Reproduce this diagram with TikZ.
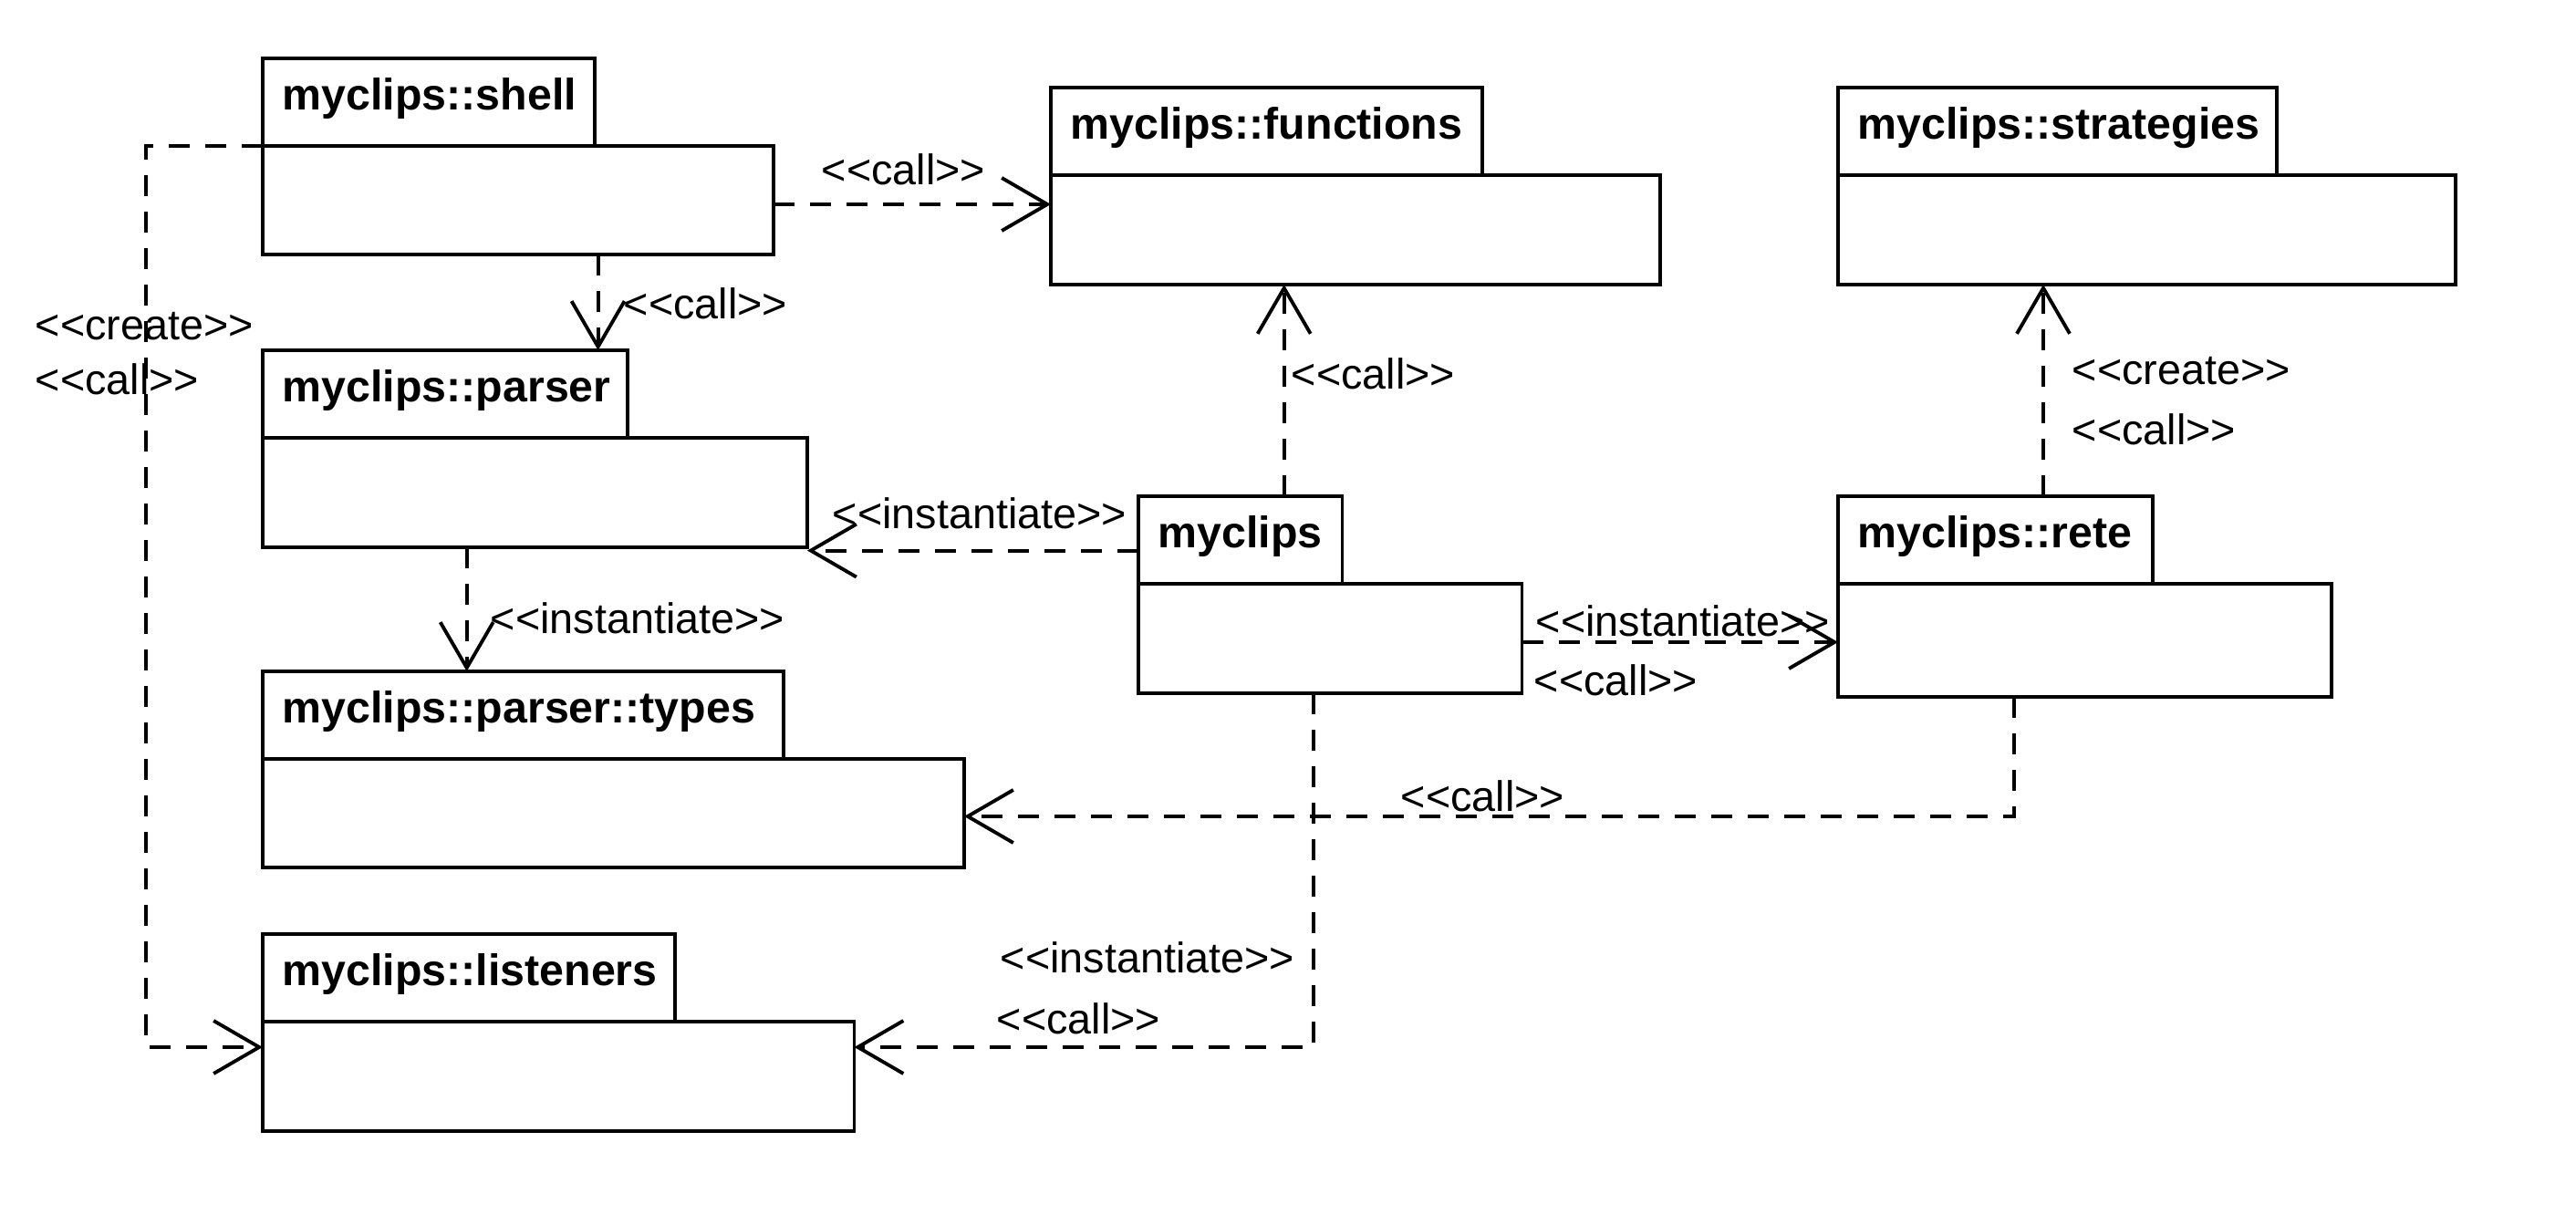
\documentclass[tikz,border=0pt]{standalone}
\usepackage{fontspec}
\setmainfont{Liberation Sans}
\usetikzlibrary{arrows.meta,positioning}
\newcommand\stereo[1]{<\kern0pt<#1>\kern0pt>}

\begin{document}
\begin{tikzpicture}[y=-1cm,line cap=butt,
    pkgbody/.style={draw,line width=1.1pt,anchor=north west,minimum height=1.2cm,inner sep=0pt,outer sep=0pt},
    pkgtab/.style={draw,line width=1.1pt,anchor=south west,minimum height=0.96cm,inner sep=0pt,outer sep=0pt},
    pkgname/.style={anchor=base west,inner sep=0pt,font=\bfseries\fontsize{13.75}{16}\selectfont},
    stlabel/.style={anchor=base west,inner sep=0pt,font=\fontsize{13.3}{16}\selectfont},
    dep/.style={line width=1.1pt,dash pattern=on 0.23cm off 0.17cm,
                -{Straight Barb[length=0.5cm,width=0.58cm]}}]
    \useasboundingbox (0,0) rectangle (28.24,13.32);
    % --- paquetes: cuerpo, pestaña y nombre ---
    \node[pkgbody,minimum width=5.60cm,minimum height=1.19cm] (shell) at (2.88,1.60) {};
    \node[pkgtab,minimum width=3.64cm] (shellTab) at (shell.north west) {};
    \node[pkgname] (shellName) at (3.09,1.205) {myclips::shell};
    \node[pkgbody,minimum width=6.68cm] (functions) at (11.52,1.92) {};
    \node[pkgtab,minimum width=4.73cm] (functionsTab) at (functions.north west) {};
    \node[pkgname] (functionsName) at (11.73,1.525) {myclips::functions};
    \node[pkgbody,minimum width=6.77cm] (strategies) at (20.15,1.92) {};
    \node[pkgtab,minimum width=4.81cm] (strategiesTab) at (strategies.north west) {};
    \node[pkgname] (strategiesName) at (20.36,1.525) {myclips::strategies};
    \node[pkgbody,minimum width=5.97cm] (parser) at (2.88,4.80) {};
    \node[pkgtab,minimum width=4.00cm] (parserTab) at (parser.north west) {};
    \node[pkgname] (parserName) at (3.09,4.405) {myclips::parser};
    \node[pkgbody,minimum width=4.205cm] (myclips) at (12.48,6.40) {};
    \node[pkgtab,minimum width=2.235cm] (myclipsTab) at (myclips.north west) {};
    \node[pkgname] (myclipsName) at (12.69,6.005) {myclips};
    \node[pkgbody,minimum width=5.41cm,minimum height=1.24cm] (rete) at (20.15,6.40) {};
    \node[pkgtab,minimum width=3.45cm] (reteTab) at (rete.north west) {};
    \node[pkgname] (reteName) at (20.36,6.005) {myclips::rete};
    \node[pkgbody,minimum width=7.69cm,minimum height=1.19cm] (types) at (2.88,8.32) {};
    \node[pkgtab,minimum width=5.71cm] (typesTab) at (types.north west) {};
    \node[pkgname] (typesName) at (3.09,7.925) {myclips::parser::types};
    \node[pkgbody,minimum width=6.485cm] (listeners) at (2.88,11.20) {};
    \node[pkgtab,minimum width=4.52cm] (listenersTab) at (listeners.north west) {};
    \node[pkgname] (listenersName) at (3.09,10.805) {myclips::listeners};
    % --- dependencias ---
    \draw[dep] (shell.east |- 0,2.24) -- (functions.west |- 0,2.24);
    \draw[dep] (6.556,0 |- shell.south) -- (6.556,0 |- parserTab.north);
    \draw[dep] (shell.north west) -| (1.60,11.48) -- (listeners.west |- 0,11.48);
    \draw[dep] (5.117,0 |- parser.south) -- (5.117,0 |- typesTab.north);
    \draw[dep] (myclipsTab.west |- 0,6.036) -- (parser.east |- 0,6.036);
    \draw[dep] (14.077,0 |- myclipsTab.north) -- (14.077,0 |- functions.south);
    \draw[dep] (myclips.east |- 0,7.04) -- (rete.west |- 0,7.04);
    \draw[dep] (14.40,0 |- myclips.south) -- (14.40,11.48) -- (listeners.east |- 0,11.48);
    \draw[dep] (22.08,0 |- rete.south) -- (22.08,8.95) -- (types.east |- 0,8.95);
    \draw[dep] (22.40,0 |- reteTab.north) -- (22.40,0 |- strategies.south);
    % --- estereotipos ---
    \node[stlabel] (lblShellFun) at (9.00,2.03) {\stereo{call}};
    \node[stlabel] (lblShellPar) at (6.83,3.50) {\stereo{call}};
    \node[stlabel] (lblShellLisA) at (0.38,3.73) {\stereo{create}};
    \node[stlabel] (lblShellLisB) at (0.38,4.33) {\stereo{call}};
    \node[stlabel] (lblParTyp) at (5.37,6.95) {\stereo{instantiate}};
    \node[stlabel] (lblMyPar) at (9.12,5.80) {\stereo{instantiate}};
    \node[stlabel] (lblMyFun) at (14.15,4.27) {\stereo{call}};
    \node[stlabel] (lblMyReteA) at (16.83,6.98) {\stereo{instantiate}};
    \node[stlabel] (lblMyReteB) at (16.81,7.63) {\stereo{call}};
    \node[stlabel] (lblMyLisA) at (10.96,10.66) {\stereo{instantiate}};
    \node[stlabel] (lblMyLisB) at (10.92,11.33) {\stereo{call}};
    \node[stlabel] (lblReteTyp) at (15.35,8.895) {\stereo{call}};
    \node[stlabel] (lblReteStrA) at (22.71,4.22) {\stereo{create}};
    \node[stlabel] (lblReteStrB) at (22.71,4.88) {\stereo{call}};
\end{tikzpicture}
\end{document}
